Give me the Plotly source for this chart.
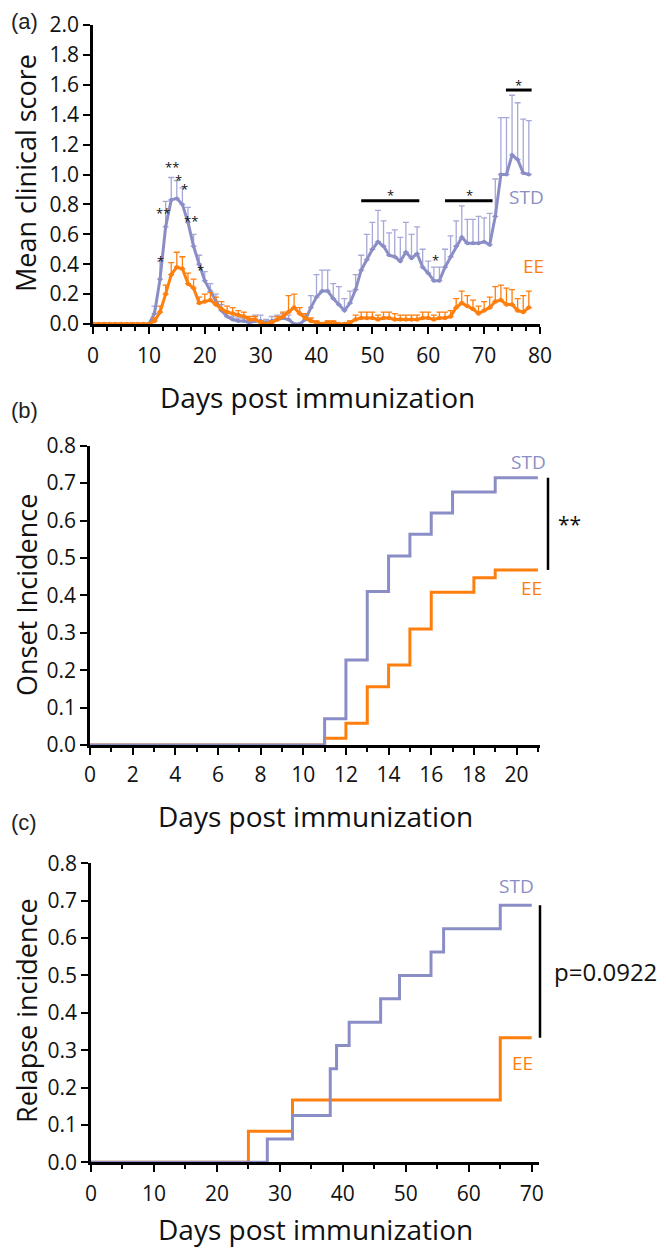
import plotly.graph_objects as go

# ---------------- data ----------------
days_a = list(range(0, 79))
std_mean = [0]*11 + [0.07, 0.30, 0.65, 0.83, 0.84, 0.80, 0.68, 0.52, 0.40, 0.29,
                     0.22, 0.15, 0.09, 0.05, 0.03, 0.02, 0.02, 0.01, 0.02, 0.02,
                     0.01, 0.02, 0.03, 0.04, 0.03, 0.0, 0.0, 0.03, 0.11, 0.18,
                     0.22, 0.22, 0.17, 0.13, 0.09, 0.14, 0.23, 0.36, 0.43, 0.50,
                     0.55, 0.52, 0.46, 0.45, 0.42, 0.48, 0.44, 0.47, 0.38, 0.34,
                     0.29, 0.29, 0.38, 0.45, 0.52, 0.58, 0.54, 0.54, 0.54, 0.55,
                     0.53, 0.72, 1.00, 1.00, 1.13, 1.10, 1.01, 1.00]
std_sem = [0]*11 + [0.05, 0.12, 0.17, 0.15, 0.12, 0.11, 0.10, 0.08, 0.06, 0.06,
                    0.05, 0.05, 0.04, 0.03, 0.02, 0.02, 0.02, 0.01, 0.04, 0.04,
                    0.02, 0.03, 0.03, 0.03, 0.03, 0.0, 0.0, 0.03, 0.08, 0.15,
                    0.14, 0.14, 0.10, 0.12, 0.08, 0.08, 0.10, 0.10, 0.17, 0.18,
                    0.21, 0.17, 0.15, 0.18, 0.16, 0.20, 0.16, 0.18, 0.12, 0.08,
                    0.09, 0.09, 0.12, 0.14, 0.17, 0.21, 0.16, 0.16, 0.18, 0.16,
                    0.21, 0.25, 0.38, 0.38, 0.40, 0.38, 0.36, 0.36]
ee_mean = [0]*11 + [0.02, 0.08, 0.20, 0.33, 0.38, 0.37, 0.27, 0.24, 0.14, 0.15,
                    0.16, 0.13, 0.10, 0.08, 0.07, 0.06, 0.05, 0.03, 0.03, 0.01,
                    0.0, 0.01, 0.03, 0.05, 0.08, 0.11, 0.07, 0.04, 0.02, 0.01,
                    0.0, 0.01, 0.01, 0.0, 0.0, 0.01, 0.03, 0.04, 0.04, 0.04,
                    0.03, 0.04, 0.04, 0.03, 0.03, 0.03, 0.03, 0.03, 0.04, 0.04,
                    0.03, 0.04, 0.04, 0.05, 0.11, 0.14, 0.12, 0.10, 0.07, 0.09,
                    0.11, 0.15, 0.16, 0.13, 0.13, 0.09, 0.08, 0.11]
ee_sem = [0]*11 + [0.02, 0.04, 0.06, 0.08, 0.10, 0.08, 0.07, 0.06, 0.04, 0.05,
                   0.05, 0.05, 0.05, 0.04, 0.04, 0.03, 0.03, 0.02, 0.02, 0.01,
                   0.0, 0.01, 0.02, 0.03, 0.11, 0.09, 0.04, 0.03, 0.02, 0.01,
                   0.0, 0.01, 0.01, 0.0, 0.0, 0.01, 0.03, 0.04, 0.04, 0.04,
                   0.03, 0.04, 0.04, 0.04, 0.03, 0.03, 0.03, 0.03, 0.04, 0.04,
                   0.03, 0.04, 0.04, 0.04, 0.06, 0.08, 0.07, 0.06, 0.05, 0.06,
                   0.07, 0.10, 0.10, 0.11, 0.10, 0.08, 0.11, 0.11]

onset_std_days = [0, 11, 12, 13, 14, 15, 16, 17, 19, 21]
onset_std_vals = [0, 0.07, 0.227, 0.41, 0.505, 0.563, 0.62, 0.676, 0.714, 0.714]
onset_ee_days = [0, 11, 12, 13, 14, 15, 16, 18, 19, 21]
onset_ee_vals = [0, 0.018, 0.058, 0.156, 0.214, 0.31, 0.408, 0.447, 0.468, 0.468]

relapse_std_days = [0, 28, 32, 38, 39, 41, 46, 49, 54, 56, 65, 70]
relapse_std_vals = [0, 0.0625, 0.125, 0.25, 0.3125, 0.375, 0.4375, 0.5, 0.5625, 0.625, 0.6875, 0.6875]
relapse_ee_days = [0, 25, 32, 65, 70]
relapse_ee_vals = [0, 0.0833, 0.1667, 0.3333, 0.3333]

# significance markers in panel (a): (day, y, text)
stars_a = [(12.0, 0.44, "*"), (14.1, 1.07, "**"), (15.3, 0.98, "*"), (16.4, 0.92, "*"),
           (12.6, 0.76, "**"), (17.5, 0.71, "**"), (19.15, 0.38, "*"), (61.3, 0.45, "*"),
           (53.2, 0.88, "*"), (67.3, 0.88, "*"), (76.1, 1.62, "*")]
bars_a = [(48, 58.4, 0.825), (63, 71.5, 0.825), (73.9, 78.5, 1.565)]

# ---------------- style ----------------
W, H = 666, 1254
OFF = 8  # page body margin of the html page
PURPLE = "#8b8ec6"
PURPLE_LT = "#a6a8d8"
ORANGE = "#ff7f0e"
FONT = "Open Sans"


def px(x):
    return (x - OFF) / W


def py(y):
    return 1 - (y - OFF) / H


fig = go.Figure()

# panel (a)
fig.add_trace(go.Scatter(x=days_a, y=std_mean, mode="lines+markers", xaxis="x", yaxis="y",
                         line=dict(color=PURPLE, width=3), marker=dict(size=4, color=PURPLE),
                         error_y=dict(type="data", symmetric=False, array=std_sem,
                                      arrayminus=[0]*len(std_sem), color=PURPLE_LT,
                                      thickness=1.3, width=3),
                         cliponaxis=False, showlegend=False))
fig.add_trace(go.Scatter(x=days_a, y=ee_mean, mode="lines+markers", xaxis="x", yaxis="y",
                         line=dict(color=ORANGE, width=3), marker=dict(size=4.5, color=ORANGE),
                         error_y=dict(type="data", symmetric=False, array=ee_sem,
                                      arrayminus=[0]*len(ee_sem), color=ORANGE,
                                      thickness=1.3, width=3),
                         cliponaxis=False, showlegend=False))

# panel (b)
fig.add_trace(go.Scatter(x=onset_ee_days, y=onset_ee_vals, mode="lines", xaxis="x2", yaxis="y2",
                         line=dict(color=ORANGE, width=3, shape="hv"), cliponaxis=False,
                         showlegend=False))
fig.add_trace(go.Scatter(x=onset_std_days, y=onset_std_vals, mode="lines", xaxis="x2", yaxis="y2",
                         line=dict(color=PURPLE, width=3, shape="hv"), cliponaxis=False,
                         showlegend=False))

# panel (c)
fig.add_trace(go.Scatter(x=relapse_ee_days, y=relapse_ee_vals, mode="lines", xaxis="x3", yaxis="y3",
                         line=dict(color=ORANGE, width=3, shape="hv"), cliponaxis=False,
                         showlegend=False))
fig.add_trace(go.Scatter(x=relapse_std_days, y=relapse_std_vals, mode="lines", xaxis="x3", yaxis="y3",
                         line=dict(color=PURPLE, width=3, shape="hv"), cliponaxis=False,
                         showlegend=False))

axis_common = dict(showgrid=False, zeroline=False, showline=True, linecolor="black", linewidth=2.5,
                   ticks="outside", ticklen=7, tickwidth=2, tickcolor="black", automargin=False,
                   tickfont=dict(family=FONT, size=21, color="#111"))

fig.update_layout(
    width=W, height=H, margin=dict(l=0, r=0, t=0, b=0, pad=0, autoexpand=False),
    paper_bgcolor="white", plot_bgcolor="white",
    xaxis=dict(domain=[px(93), px(540)], range=[0, 80], tickvals=list(range(0, 81, 10)),
               anchor="y", ticklabelstandoff=4,
               minor=dict(dtick=2.5, ticks="outside", ticklen=4, tickwidth=2, tickcolor="black"),
               **axis_common),
    yaxis=dict(domain=[py(324), py(25)], range=[0, 2], dtick=0.2, tickformat=".1f", anchor="x",
               **axis_common),
    xaxis2=dict(domain=[px(90), px(540)], range=[0, 21.1], tickvals=list(range(0, 21, 2)),
                anchor="y2", ticklabelstandoff=2,
                minor=dict(dtick=1, ticks="outside", ticklen=4, tickwidth=2, tickcolor="black"),
                **axis_common),
    yaxis2=dict(domain=[py(745), py(445.7)], range=[0, 0.8], dtick=0.1, tickformat=".1f",
                anchor="x2", **axis_common),
    xaxis3=dict(domain=[px(91), px(539.3)], range=[0, 71.2], tickvals=list(range(0, 71, 10)),
                anchor="y3", ticklabelstandoff=4,
                minor=dict(dtick=5, ticks="outside", ticklen=4, tickwidth=2, tickcolor="black"),
                **axis_common),
    yaxis3=dict(domain=[py(1162.3), py(863.3)], range=[0, 0.8], dtick=0.1, tickformat=".1f",
                anchor="x3", **axis_common),
)

annotations = []
shapes = []


def paper_text(text, x, y, size, angle=0, color="black", family=FONT, xanchor="center"):
    annotations.append(dict(text=text, x=px(x), y=py(y), xref="paper", yref="paper",
                            showarrow=False, textangle=angle, xanchor=xanchor, yanchor="middle",
                            font=dict(family=family, size=size, color=color)))


# panel labels
paper_text("(a)", 24, 22, 22, family="Liberation Sans", color="#222")
paper_text("(b)", 24, 410, 22, family="Liberation Sans", color="#222")
paper_text("(c)", 24, 822, 22, family="Liberation Sans", color="#222")

# axis titles
paper_text("Mean clinical score", 26, 173, 27, angle=-90, color="#111")
paper_text("Days post immunization", 317, 397, 28, color="#111")
paper_text("Onset Incidence", 26, 595, 27, angle=-90, color="#111")
paper_text("Days post immunization", 315, 816, 28, color="#111")
paper_text("Relapse incidence", 26, 1011, 27, angle=-90, color="#111")
paper_text("Days post immunization", 315, 1229, 28, color="#111")

# panel (a) group labels
annotations.append(dict(text="STD", x=77.6, y=0.85, xref="x", yref="y", showarrow=False,
                        font=dict(family=FONT, size=19, color=PURPLE)))
annotations.append(dict(text="EE", x=78.8, y=0.39, xref="x", yref="y", showarrow=False,
                        font=dict(family=FONT, size=19, color=ORANGE)))
for sx, sy, st in stars_a:
    annotations.append(dict(text=st, x=sx, y=sy, xref="x", yref="y", showarrow=False, yshift=-3,
                            font=dict(family=FONT, size=13, color="#111")))
for x0, x1, yb in bars_a:
    shapes.append(dict(type="line", x0=x0, x1=x1, y0=yb, y1=yb, xref="x", yref="y",
                       line=dict(color="black", width=3)))

# panel (b)
annotations.append(dict(text="STD", x=20.58, y=0.757, xref="x2", yref="y2", showarrow=False,
                        font=dict(family=FONT, size=19, color=PURPLE)))
annotations.append(dict(text="EE", x=20.72, y=0.42, xref="x2", yref="y2", showarrow=False,
                        font=dict(family=FONT, size=19, color=ORANGE)))
shapes.append(dict(type="line", x0=px(548), x1=px(548), y0=onset_std_vals[-1], y1=onset_ee_vals[-1],
                   xref="paper", yref="y2", line=dict(color="black", width=2.5)))
annotations.append(dict(text="**", x=px(556), y=(onset_std_vals[-1] + onset_ee_vals[-1]) / 2 + 0.01,
                        xref="paper", yref="y2", showarrow=False, xanchor="left", yshift=-4,
                        font=dict(family=FONT, size=21, color="#111")))

# panel (c)
annotations.append(dict(text="STD", x=67.6, y=0.74, xref="x3", yref="y3", showarrow=False,
                        font=dict(family=FONT, size=19, color=PURPLE)))
annotations.append(dict(text="EE", x=68.6, y=0.265, xref="x3", yref="y3", showarrow=False,
                        font=dict(family=FONT, size=19, color=ORANGE)))
shapes.append(dict(type="line", x0=px(540), x1=px(540), y0=relapse_std_vals[-1], y1=relapse_ee_vals[-1],
                   xref="paper", yref="y3", line=dict(color="black", width=2.5)))
annotations.append(dict(text="p=0.0922", x=px(552), y=(relapse_std_vals[-1] + relapse_ee_vals[-1]) / 2,
                        xref="paper", yref="y3", showarrow=False, xanchor="left",
                        font=dict(family=FONT, size=24, color="#111")))

fig.update_layout(annotations=annotations, shapes=shapes)
fig.write_html("out.html")
